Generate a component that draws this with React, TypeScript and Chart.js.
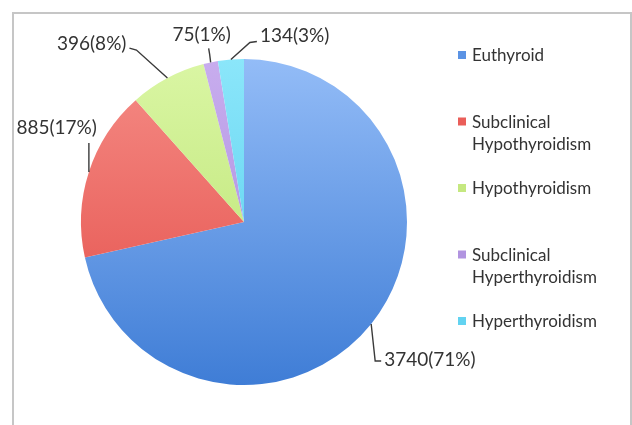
import React, { useEffect, useRef } from "react";
import { Chart, registerables } from "chart.js";

Chart.register(...registerables);

// ---- data ----
const categories = [
  "Euthyroid",
  "Subclinical Hypothyroidism",
  "Hypothyroidism",
  "Subclinical Hyperthyroidism",
  "Hyperthyroidism",
];
const legendLines = [
  ["Euthyroid"],
  ["Subclinical", "Hypothyroidism"],
  ["Hypothyroidism"],
  ["Subclinical", "Hyperthyroidism"],
  ["Hyperthyroidism"],
];
const counts = [3740, 885, 396, 75, 134];
const percents = [71, 17, 8, 1, 3];

// ---- styles ----
const colorTop = ["#93BCF7", "#F58C86", "#DAF6A4", "#C8ADEE", "#8BE6FA"];
const colorBottom = ["#3F7DD6", "#E34A45", "#B6E06A", "#A586DA", "#50CBEC"];
const colorMid = ["#5B93E4", "#EA5E59", "#C5E880", "#B194E0", "#62D3F1"];

// label leader geometry relative to the slice anchor point
const labelStyle: { elbow: [number, number]; end: [number, number]; text: [number, number]; align: CanvasTextAlign }[] = [
  { elbow: [4, 37], end: [10, 37], text: [13, 36], align: "left" },
  { elbow: [0, -15], end: [0, -29], text: [8, -44], align: "right" },
  { elbow: [-31, -28], end: [-38, -30], text: [-41, -34], align: "right" },
  { elbow: [-1, -8], end: [-2, -14], text: [-9, -28], align: "center" },
  { elbow: [19, -17], end: [26, -18], text: [29, -24], align: "left" },
];

const FONT = "Lato, 'Open Sans', sans-serif";

const frameAndLabels = {
  id: "frameAndLabels",
  beforeDraw(chart: any) {
    const ctx = chart.ctx;
    ctx.save();
    ctx.fillStyle = "#ffffff";
    ctx.fillRect(0, 0, chart.width, chart.height);
    ctx.strokeStyle = "#c6c6c6";
    ctx.lineWidth = 2;
    ctx.strokeRect(13, 13, 618, 440);
    ctx.restore();
  },
  afterDatasetsDraw(chart: any) {
    const ctx = chart.ctx;
    const meta = chart.getDatasetMeta(0);
    ctx.save();
    meta.data.forEach((arc: any, i: number) => {
      const p = arc.getProps(["x", "y", "startAngle", "endAngle", "outerRadius"], true);
      const mid = (p.startAngle + p.endAngle) / 2;
      const ax = p.x + Math.cos(mid) * p.outerRadius;
      const ay = p.y + Math.sin(mid) * p.outerRadius;
      const s = labelStyle[i];
      ctx.strokeStyle = "#3a3a3a";
      ctx.lineWidth = 1.4;
      ctx.beginPath();
      ctx.moveTo(ax, ay);
      ctx.lineTo(ax + s.elbow[0], ay + s.elbow[1]);
      ctx.lineTo(ax + s.end[0], ay + s.end[1]);
      ctx.stroke();
      ctx.fillStyle = "#333333";
      ctx.font = `19px ${FONT}`;
      ctx.textAlign = s.align;
      ctx.textBaseline = "middle";
      ctx.fillText(`${counts[i]}(${percents[i]}%)`, ax + s.text[0], ay + s.text[1]);
    });

    // legend
    const lx = 458;
    const ly0 = 56;
    const step = 66.5;
    const lineH = 22;
    legendLines.forEach((lines, i) => {
      const y = ly0 + i * step;
      ctx.fillStyle = colorMid[i];
      ctx.fillRect(lx, y - 5, 8, 8);
      ctx.fillStyle = "#333333";
      ctx.font = `17px ${FONT}`;
      ctx.textAlign = "left";
      ctx.textBaseline = "middle";
      lines.forEach((t, j) => ctx.fillText(t, lx + 14, y + j * lineH));
    });
    ctx.restore();
  },
};

export default function App() {
  const ref = useRef<HTMLCanvasElement | null>(null);
  useEffect(() => {
    document.body.style.margin = "0";
    if (!ref.current) return;
    const chart = new Chart(ref.current, {
      type: "pie",
      data: {
        labels: categories,
        datasets: [
          {
            data: counts,
            borderWidth: 0,
            backgroundColor: (c: any) => {
              const area = c.chart.chartArea;
              const i = c.dataIndex;
              if (!area || i === undefined) return colorMid[i ?? 0];
              const g = c.chart.ctx.createLinearGradient(0, area.top, 0, area.bottom);
              g.addColorStop(0, colorTop[i]);
              g.addColorStop(1, colorBottom[i]);
              return g;
            },
          },
        ],
      },
      options: {
        responsive: false,
        animation: false,
        layout: { padding: { left: 81, right: 225, top: 59, bottom: 40 } },
        plugins: {
          legend: { display: false },
          tooltip: { enabled: false },
        },
      },
      plugins: [frameAndLabels],
    });
    return () => chart.destroy();
  }, []);
  return (
    <div style={{ width: 632, height: 425 }}>
      <canvas ref={ref} width={632} height={425} style={{ display: "block" }} />
    </div>
  );
}
